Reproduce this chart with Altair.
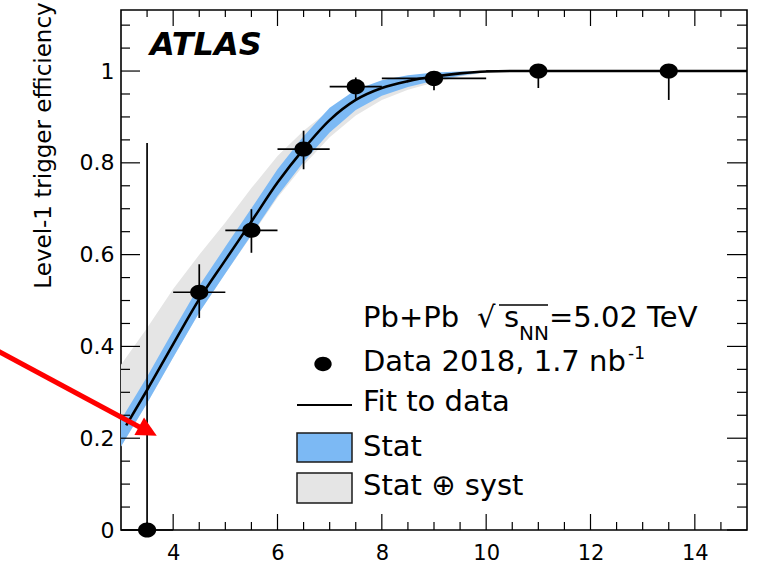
import altair as alt
import pandas as pd

# ---------------- data ----------------
# measured points (pT bins) with error bars
pt_x = [3.5, 4.5, 5.5, 6.5, 7.5, 9.0, 11.0, 13.5]
pt_y = [0.0, 0.518, 0.653, 0.830, 0.966, 0.984, 1.0, 1.0]
pt_xlo = [3.0, 4.0, 5.0, 6.0, 7.0, 8.0, 10.0, 12.0]
pt_xhi = [4.0, 5.0, 6.0, 7.0, 8.0, 10.0, 12.0, 15.0]
pt_ylo = [0.0, 0.462, 0.604, 0.786, 0.939, 0.958, 0.963, 0.937]
pt_yhi = [0.843, 0.579, 0.699, 0.870, 0.986, 1.0, 1.0, 1.0]

# fit curve
fit_x = [3.1, 3.5, 4.0, 4.5, 5.0, 5.5, 6.0, 6.5, 7.0, 7.5, 8.0, 8.5, 9.0,
         9.5, 10.0, 10.5, 11.0, 12.0, 13.0, 14.0, 15.0]
fit_y = [0.228, 0.305, 0.405, 0.503, 0.588, 0.672, 0.757, 0.830, 0.893,
         0.937, 0.963, 0.978, 0.988, 0.995, 0.999, 1.0, 1.0, 1.0, 1.0, 1.0, 1.0]

# uncertainty bands
band_x = [3.0, 3.5, 4.0, 4.5, 5.0, 5.5, 6.0, 6.5, 7.0, 7.5, 8.0, 8.5, 9.0, 9.5, 10.0]
stat_lo = [0.182, 0.276, 0.376, 0.474, 0.559, 0.643, 0.728, 0.802, 0.866,
           0.915, 0.946, 0.965, 0.979, 0.990, 0.998]
stat_hi = [0.240, 0.334, 0.434, 0.532, 0.617, 0.701, 0.786, 0.858, 0.920,
           0.959, 0.980, 0.991, 0.997, 0.999, 1.0]
syst_lo = [0.182, 0.276, 0.376, 0.474, 0.559, 0.641, 0.724, 0.795, 0.856,
           0.903, 0.937, 0.959, 0.975, 0.988, 0.997]
syst_hi = [0.360, 0.440, 0.525, 0.600, 0.670, 0.745, 0.815, 0.870, 0.915,
           0.950, 0.972, 0.985, 0.993, 0.997, 1.0]

# axis ticks and labels
x_labels = [4, 6, 8, 10, 12, 14]
x_minor = [3.5, 4.5, 5, 5.5, 6.5, 7, 7.5, 8.5, 9, 9.5, 10.5, 11, 11.5,
           12.5, 13, 13.5, 14.5]
y_labels = [0, 0.2, 0.4, 0.6, 0.8, 1.0]
y_minor = [0.05, 0.1, 0.15, 0.25, 0.3, 0.35, 0.45, 0.5, 0.55, 0.65, 0.7,
           0.75, 0.85, 0.9, 0.95, 1.05, 1.1]

# ---------------- chart ----------------
FONT = "DejaVu Sans"
W, H = 626, 520
XS = alt.Scale(domain=[3, 15], nice=False, zero=False)
YS = alt.Scale(domain=[0, 1.133], nice=False, zero=False)

X_AX = alt.Axis(values=x_labels, format="d", ticks=False, tickSize=0, domain=False,
                grid=False, labelFont=FONT, labelFontSize=21, labelColor="black",
                labelPadding=12, labelOverlap=False, title=None)
Y_AX = alt.Axis(values=y_labels, format="~g", ticks=False, tickSize=0, domain=False,
                grid=False, labelFont=FONT, labelFontSize=22, labelColor="black",
                labelPadding=7, labelOverlap=False,
                title="Level-1 trigger efficiency", titleFont=FONT,
                titleFontSize=23, titleFontWeight="normal", titleColor="black",
                titleAngle=270, titleX=-66, titleY=135, titleAlign="center",
                titleBaseline="bottom")


def X(f):
    return alt.X(f, type="quantitative", scale=XS, axis=X_AX)


def Y(f):
    return alt.Y(f, type="quantitative", scale=YS, axis=Y_AX)


pts = pd.DataFrame({"x": pt_x, "y": pt_y, "xlo": pt_xlo, "xhi": pt_xhi,
                    "ylo": pt_ylo, "yhi": pt_yhi})
fit = pd.DataFrame({"x": fit_x, "y": fit_y})
band = pd.DataFrame({"x": band_x, "slo": stat_lo, "shi": stat_hi,
                     "ylo": syst_lo, "yhi": syst_hi})

BLUE = "#7cb9f4"
GRAY = "#e5e5e5"
ELL = "M-1,0A1,0.83,0,1,1,1,0A1,0.83,0,1,1,-1,0Z"

layers = []
layers.append(alt.Chart(band).mark_area(color=GRAY, opacity=1).encode(
    x=X("x"), y=Y("ylo"), y2="yhi"))
layers.append(alt.Chart(band).mark_area(color=BLUE, opacity=1).encode(
    x=X("x"), y=Y("slo"), y2="shi"))
layers.append(alt.Chart(fit).mark_line(color="black", strokeWidth=2.6,
                                       interpolate="monotone").encode(
    x=X("x"), y=Y("y")))
layers.append(alt.Chart(pts).mark_rule(color="black", strokeWidth=1.7).encode(
    x=X("x"), y=Y("ylo"), y2="yhi"))
layers.append(alt.Chart(pts).mark_rule(color="black", strokeWidth=1.7).encode(
    x=X("xlo"), x2="xhi", y=Y("y")))
layers.append(alt.Chart(pts).mark_point(shape=ELL, filled=True, size=330,
                                        color="black", opacity=1).encode(
    x=X("x"), y=Y("y")))

# inward ticks on all four sides
TK = dict(color="black", strokeWidth=1.2)
layers.append(alt.Chart(pd.DataFrame({"t": x_labels})).mark_rule(**TK).encode(
    x=X("t"), y=alt.value(H), y2=alt.value(H - 16)))
layers.append(alt.Chart(pd.DataFrame({"t": x_minor})).mark_rule(**TK).encode(
    x=X("t"), y=alt.value(H), y2=alt.value(H - 8)))
layers.append(alt.Chart(pd.DataFrame({"t": x_labels})).mark_rule(**TK).encode(
    x=X("t"), y=alt.value(0), y2=alt.value(16)))
layers.append(alt.Chart(pd.DataFrame({"t": x_minor})).mark_rule(**TK).encode(
    x=X("t"), y=alt.value(0), y2=alt.value(7)))
layers.append(alt.Chart(pd.DataFrame({"t": y_labels})).mark_rule(**TK).encode(
    y=Y("t"), x=alt.value(0), x2=alt.value(19)))
layers.append(alt.Chart(pd.DataFrame({"t": y_minor})).mark_rule(**TK).encode(
    y=Y("t"), x=alt.value(0), x2=alt.value(9)))
layers.append(alt.Chart(pd.DataFrame({"t": y_labels})).mark_rule(**TK).encode(
    y=Y("t"), x=alt.value(W), x2=alt.value(W - 20)))
layers.append(alt.Chart(pd.DataFrame({"t": y_minor})).mark_rule(**TK).encode(
    y=Y("t"), x=alt.value(W), x2=alt.value(W - 10)))

# ATLAS label
layers.append(alt.Chart().mark_text(font=FONT, fontSize=32, fontWeight="bold",
                                    fontStyle="italic", align="left",
                                    baseline="alphabetic", color="black").encode(
    x=alt.value(29), y=alt.value(45), text=alt.value("ATLAS")))


def txt(s, x, y, size=29):
    return alt.Chart().mark_text(font=FONT, fontSize=size, align="left",
                                 baseline="alphabetic", color="black").encode(
        x=alt.value(x), y=alt.value(y), text=alt.value(s))


# legend
layers.append(txt("Pb+Pb", 242, 317))
layers.append(txt("\u221a", 356, 317))
layers.append(alt.Chart().mark_rule(color="black", strokeWidth=1.5).encode(
    x=alt.value(378), x2=alt.value(427), y=alt.value(295)))
layers.append(txt("s", 383, 317))
layers.append(txt("NN", 398, 330, 20))
layers.append(txt("=5.02 TeV", 428, 317))

layers.append(alt.Chart().mark_point(shape=ELL, filled=True, size=300,
                                     color="black", opacity=1).encode(
    x=alt.value(202), y=alt.value(354)))
layers.append(txt("Data 2018, 1.7 nb", 242, 361))
layers.append(txt("-1", 507, 349, 17))

layers.append(alt.Chart().mark_rule(color="black", strokeWidth=2).encode(
    x=alt.value(176), x2=alt.value(231), y=alt.value(395)))
layers.append(txt("Fit to data", 242, 401))

layers.append(alt.Chart().mark_rect(fill=BLUE, stroke="#1a1a1a", strokeWidth=1.5).encode(
    x=alt.value(176), x2=alt.value(231), y=alt.value(423), y2=alt.value(452)))
layers.append(txt("Stat", 242, 446))

layers.append(alt.Chart().mark_rect(fill=GRAY, stroke="#1a1a1a", strokeWidth=1.5).encode(
    x=alt.value(176), x2=alt.value(231), y=alt.value(463), y2=alt.value(493)))
layers.append(txt("Stat \u2295 syst", 242, 485))

# red annotation arrow
layers.append(alt.Chart().mark_rule(color="#ff0000", strokeWidth=5).encode(
    x=alt.value(-125), y=alt.value(340), x2=alt.value(24), y2=alt.value(420)))
layers.append(alt.Chart().mark_point(shape="M1,0L-1,-1L-1,1Z", filled=True,
                                     size=400, angle=28.7, color="#ff0000",
                                     opacity=1).encode(
    x=alt.value(27), y=alt.value(421)))

chart = alt.layer(*layers).properties(
    width=W, height=H,
    autosize=alt.AutoSizeParams(type="none"),
    padding={"left": 121, "top": 10, "right": 13, "bottom": 34},
).configure_view(stroke="black", strokeWidth=1.6)

chart.save("out.html", embed_options={"renderer": "svg", "actions": False})
